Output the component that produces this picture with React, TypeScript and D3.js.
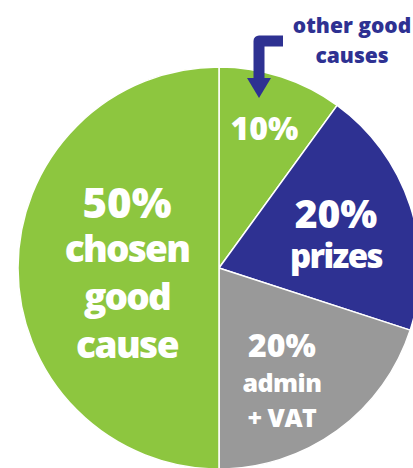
import React from 'react';
import * as d3 from 'd3';

const W = 413;
const H = 468;

// slices, clockwise from 12 o'clock
const shares = [10, 20, 20, 50];
const sliceNames = ['other good causes', 'prizes', 'admin + VAT', 'chosen good cause'];
const sliceColors = ['#8dc63f', '#2e3192', '#999999', '#8dc63f'];

// text inside each slice
const labelLines = [
  ['10%'],
  ['20%', 'prizes'],
  ['20%', 'admin', '+ VAT'],
  ['50%', 'chosen', 'good', 'cause'],
];
const labelSizes = [[32], [39, 33], [32, 25, 25], [42, 37, 37, 37]];
const labelSpacing = [[0], [0, -1.6], [0, -0.5, -0.5], [0, -1.8, -1.8, -1.6]];
const labelOffsets = [[12], [-2, 38], [2, 37, 72], [-50, -6, 42, 90]];
const labelRadius = [147, 123, 107, 92];

const calloutLines = ['other good', 'causes'];

const cx = 219;
const cy = 268;
const radius = 201;

export default function App() {
  const pie = d3.pie<number>().sort(null).value(d => d);
  const arcs = pie(shares);
  const arc = d3.arc<d3.PieArcDatum<number>>().innerRadius(0).outerRadius(radius);

  const font = "'Open Sans', 'DejaVu Sans', sans-serif";

  return (
    <svg width={W} height={H} style={{ position: 'absolute', left: 0, top: 0 }} fontFamily={font}>
      <g transform={`translate(${cx},${cy})`}>
        {arcs.map((a, i) => (
          <path key={sliceNames[i]} d={arc(a) || ''} fill={sliceColors[i]} stroke="#fff" strokeWidth={1.5} />
        ))}
        {arcs.map((a, i) => {
          const lab = d3.arc<d3.PieArcDatum<number>>().innerRadius(labelRadius[i]).outerRadius(labelRadius[i]);
          const [lx, ly] = lab.centroid(a);
          return (
            <text key={'l' + i} x={lx} y={ly} textAnchor="middle" fill="#fff" fontWeight={800}>
              {labelLines[i].map((t, j) => (
                <tspan key={j} x={lx} y={ly + labelOffsets[i][j]} fontSize={labelSizes[i][j]} letterSpacing={labelSpacing[i][j]}>{t}</tspan>
              ))}
            </text>
          );
        })}
      </g>

      {/* callout for the 10% slice */}
      <path d="M283,41 L259,41 L259,80" fill="none" stroke="#2e3192" strokeWidth={11} strokeLinejoin="round" strokeLinecap="butt" />
      <path d="M247,78 L271,78 L259,98 Z" fill="#2e3192" />
      <text textAnchor="middle" fill="#2e3192" fontWeight={800} fontSize={21}>
        {calloutLines.map((t, j) => (
          <tspan key={j} x={352} y={33 + j * 30}>{t}</tspan>
        ))}
      </text>
    </svg>
  );
}
